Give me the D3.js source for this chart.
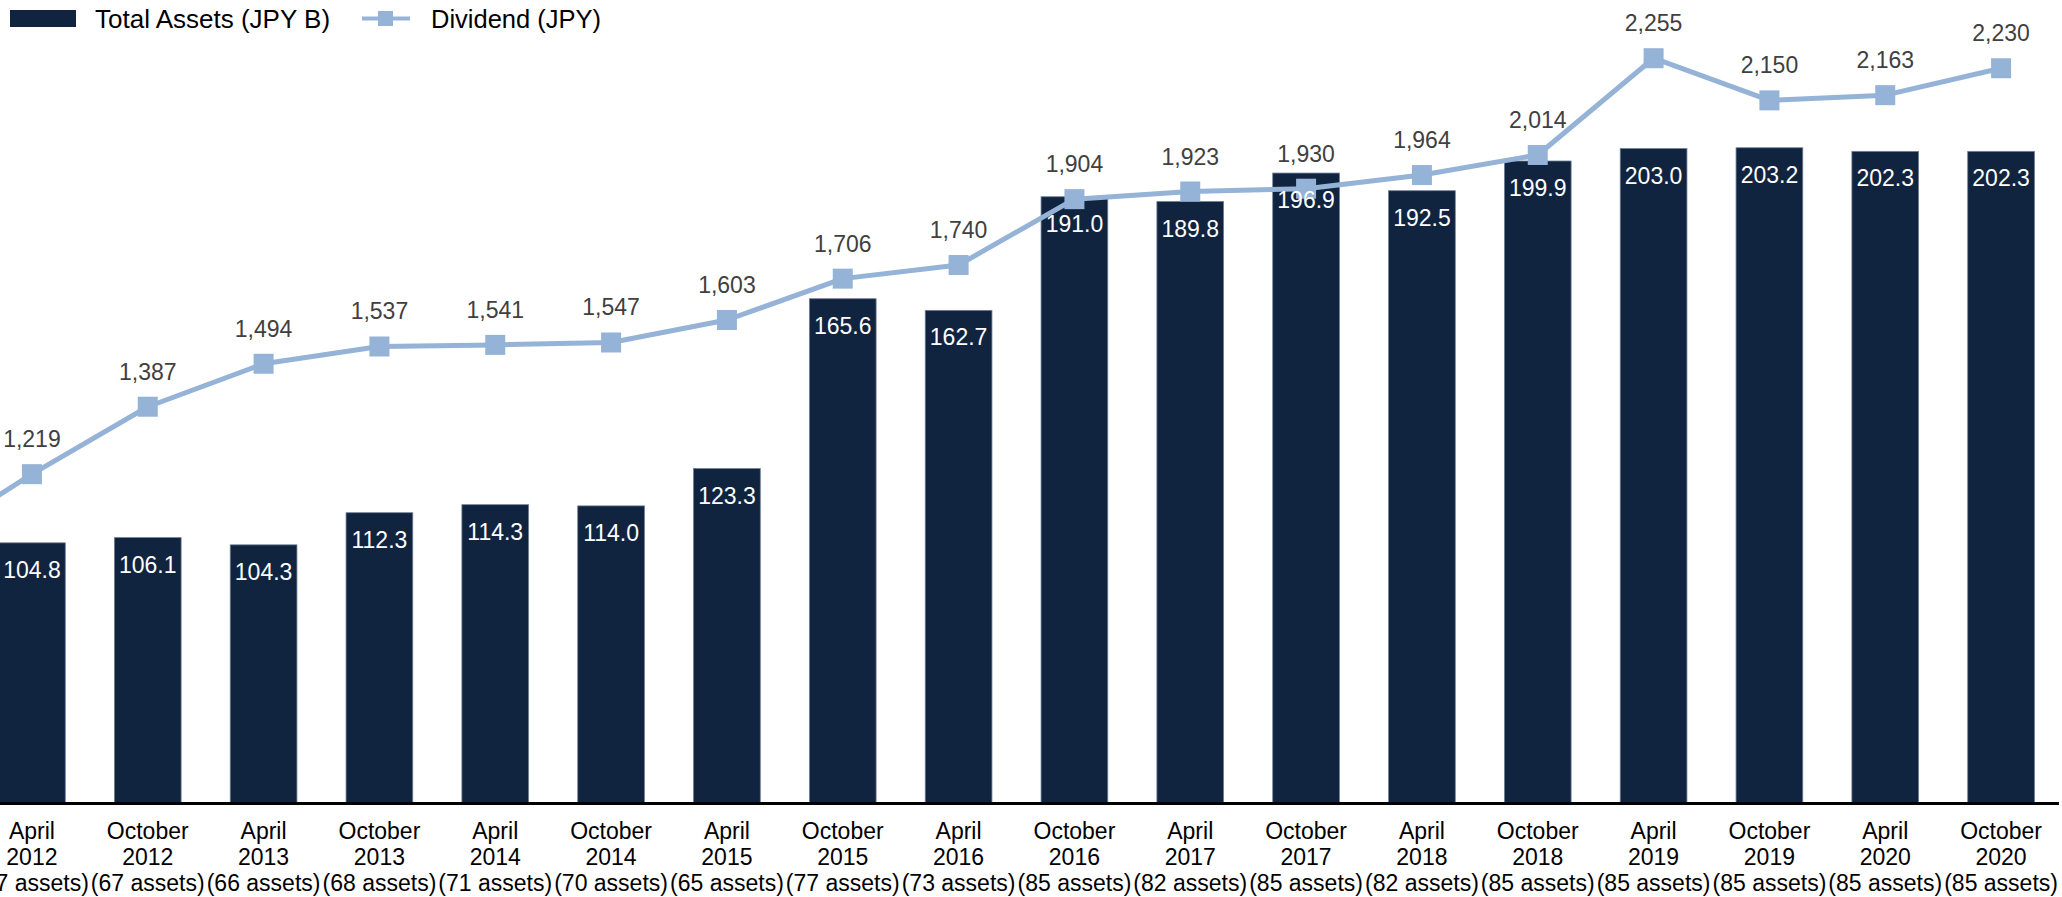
<!DOCTYPE html>
<html>
<head>
<meta charset="utf-8">
<script src="https://cdn.jsdelivr.net/npm/d3@7"></script>
<style>
  html, body { margin: 0; padding: 0; background: #fff; }
  svg { display: block; font-family: "Liberation Sans", Arial, sans-serif; }
</style>
</head>
<body>
<svg id="chart" width="2062" height="897"></svg>
<script>
// ---- data ----
const periods = ["April","October","April","October","April","October","April","October","April","October","April","October","April","October","April","October","April","October"];
const years = ["2012","2012","2013","2013","2014","2014","2015","2015","2016","2016","2017","2017","2018","2018","2019","2019","2020","2020"];
const assetCounts = [67,67,66,68,71,70,65,77,73,85,82,85,82,85,85,85,85,85];
const totalAssets = [104.8,106.1,104.3,112.3,114.3,114.0,123.3,165.6,162.7,191.0,189.8,196.9,192.5,199.9,203.0,203.2,202.3,202.3];
const dividends = [1219,1387,1494,1537,1541,1547,1603,1706,1740,1904,1923,1930,1964,2014,2255,2150,2163,2230];
// previous period's dividend (line enters from the cropped left edge)
const prevDividend = [1036];
const assetsDomain = [40, 240];
const dividendDomain = [400, 2400];

const svg = d3.select("#chart");
const idx = d3.range(periods.length);

const x = d3.scaleBand().domain(idx).range([-26, 2059]).paddingInner(0.424).paddingOuter(0.212);
const yA = d3.scaleLinear().domain(assetsDomain).range([803, 0]);
const yD = d3.scaleLinear().domain(dividendDomain).range([803, 0]);
const cx = i => x(i) + x.bandwidth() / 2;

const barColor = "#11243f";
const lineColor = "#95b3d7";

// bars
svg.append("g").selectAll("rect").data(idx).join("rect")
  .attr("x", i => x(i))
  .attr("y", i => yA(totalAssets[i]))
  .attr("width", x.bandwidth())
  .attr("height", i => yA(assetsDomain[0]) - yA(totalAssets[i]))
  .attr("fill", barColor)
  .attr("stroke", "#6f7f96")
  .attr("stroke-width", 0.8);

// axis baseline
svg.append("line")
  .attr("x1", 0).attr("x2", x.range()[1])
  .attr("y1", 803.5).attr("y2", 803.5)
  .attr("stroke", "#000").attr("stroke-width", 3);

// line
const pts = [[cx(0) - x.step(), yD(prevDividend[0])]].concat(idx.map(i => [cx(i), yD(dividends[i])]));
svg.append("path")
  .attr("d", d3.line()(pts))
  .attr("fill", "none")
  .attr("stroke", lineColor)
  .attr("stroke-width", 5)
  .attr("stroke-linejoin", "round");

// markers
svg.append("g").selectAll("rect").data(idx).join("rect")
  .attr("x", i => cx(i) - 10)
  .attr("y", i => yD(dividends[i]) - 10)
  .attr("width", 20).attr("height", 20)
  .attr("fill", lineColor);

// bar labels (drawn above the line)
svg.append("g").selectAll("text").data(idx).join("text")
  .attr("x", i => cx(i))
  .attr("y", i => yA(totalAssets[i]) + 35)
  .attr("text-anchor", "middle")
  .attr("font-size", 23)
  .attr("fill", "#ffffff")
  .text(i => totalAssets[i].toFixed(1));

// dividend labels
svg.append("g").selectAll("text").data(idx).join("text")
  .attr("x", i => cx(i))
  .attr("y", i => yD(dividends[i]) - 27)
  .attr("text-anchor", "middle")
  .attr("font-size", 23)
  .attr("fill", "#404040")
  .text(i => d3.format(",")(dividends[i]));

// x axis labels
const xl = svg.append("g").selectAll("text").data(idx).join("text")
  .attr("text-anchor", "middle")
  .attr("font-size", 23)
  .attr("fill", "#000");
xl.append("tspan").attr("x", i => cx(i)).attr("y", 839).text(i => periods[i]);
xl.append("tspan").attr("x", i => cx(i)).attr("y", 865).text(i => years[i]);
xl.append("tspan").attr("x", i => cx(i)).attr("y", 891).text(i => `(${assetCounts[i]} assets)`);

// legend
const lg = svg.append("g");
lg.append("rect").attr("x", 10).attr("y", 10).attr("width", 66).attr("height", 17).attr("fill", barColor);
lg.append("text").attr("x", 95).attr("y", 28).attr("font-size", 26).attr("fill", "#000").text("Total Assets (JPY B)");
lg.append("line").attr("x1", 362).attr("x2", 410).attr("y1", 18.5).attr("y2", 18.5).attr("stroke", lineColor).attr("stroke-width", 4);
lg.append("rect").attr("x", 378).attr("y", 11).attr("width", 15).attr("height", 15).attr("fill", lineColor);
lg.append("text").attr("x", 431).attr("y", 28).attr("font-size", 25.5).attr("fill", "#000").text("Dividend (JPY)");
</script>
</body>
</html>
